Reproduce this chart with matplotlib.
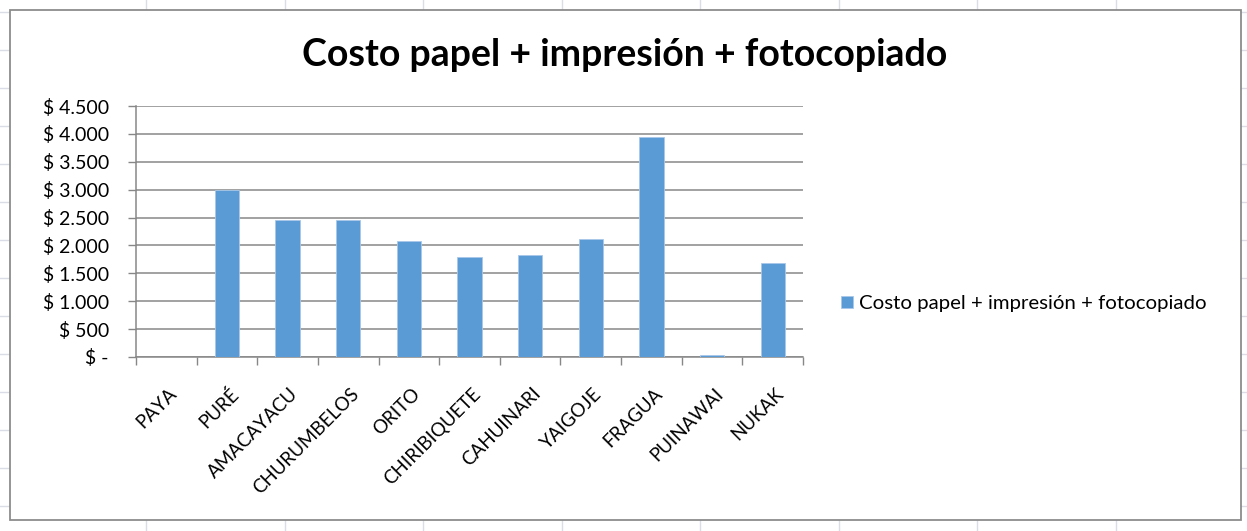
import matplotlib.pyplot as plt
import numpy as np
from matplotlib.patches import Rectangle
from matplotlib.lines import Line2D
from matplotlib.ticker import FuncFormatter, MultipleLocator
import matplotlib.transforms as mtransforms

# data
parques = ["PAYA", "PURÉ", "AMACAYACU", "CHURUMBELOS", "ORITO", "CHIRIBIQUETE",
           "CAHUINARI", "YAIGOJE", "FRAGUA", "PUINAWAI", "NUKAK"]
costo = [0, 3000, 2450, 2450, 2080, 1800, 1830, 2120, 3940, 35, 1690]
serie = "Costo papel + impresión + fotocopiado"

plt.rcParams['font.family'] = ['Lato', 'DejaVu Sans']

W, H = 1247, 531
fig = plt.figure(figsize=(W / 100, H / 100), dpi=100)

# spreadsheet grid behind the chart
for x in np.arange(146, W, 138.5):
    fig.add_artist(Line2D([x / W, x / W], [0, 1], color='#dadce6', lw=1, zorder=0))
for y in np.arange(12, H, 38):
    fig.add_artist(Line2D([0, 1], [1 - y / H, 1 - y / H], color='#dadce6', lw=1, zorder=0))

# chart area
fig.add_artist(Rectangle((10 / W, 1 - 520 / H), 1231 / W, 510 / H, facecolor='white',
                         edgecolor='#8c8c8c', lw=1.3, zorder=1))

ax = fig.add_axes([136 / W, 1 - 357 / H, 667 / W, 251 / H], zorder=2)
ax.set_facecolor('none')
x = np.arange(len(parques))
ax.bar(x, costo, width=0.4, color='#5b9bd5', edgecolor='#a9c8ea', lw=0.6,
       label=serie, zorder=3)

ax.set_xlim(-0.5, len(parques) - 0.5)
ax.set_ylim(0, 4500)
ax.yaxis.set_major_locator(MultipleLocator(500))


def pesos(v, pos):
    if v == 0:
        return "$ -"
    return "$ " + f"{int(v):,}".replace(",", ".")


ax.yaxis.set_major_formatter(FuncFormatter(pesos))
ax.grid(axis='y', color='#878787', lw=1.1, zorder=0)

ax.set_xticks(x)
ax.set_xticklabels(parques, rotation=45, ha='right', rotation_mode='anchor', fontsize=13.5)
ax.tick_params(axis='x', length=0, pad=20)
shift = mtransforms.ScaledTranslation(2 / 100, 0, fig.dpi_scale_trans)
for lbl in ax.get_xticklabels():
    lbl.set_transform(lbl.get_transform() + shift)
ax.set_xticks(np.arange(-0.5, len(parques)), minor=True)
ax.tick_params(axis='x', which='minor', length=6, color='#878787', width=1)
ax.tick_params(axis='y', length=5.5, color='#878787', width=1, labelsize=14, pad=14)

for s in ['top', 'right']:
    ax.spines[s].set_visible(False)
for s in ['left', 'bottom']:
    ax.spines[s].set_color('#878787')
    ax.spines[s].set_linewidth(1.1)

fig.text(625 / W, 1 - 55 / H, serie, ha='center', va='center', fontsize=27,
         fontweight='bold', zorder=3)

ax.legend(loc='center left', bbox_to_anchor=(823 / W, 1 - 304 / H),
          bbox_transform=fig.transFigure, frameon=False, fontsize=14.7,
          handlelength=0.55, handleheight=0.55, handletextpad=0.3)

fig.savefig("out.png", dpi=100)
